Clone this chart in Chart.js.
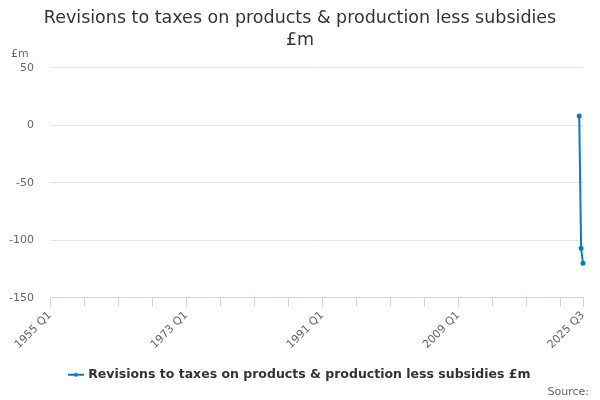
<!DOCTYPE html>
<html>
<head>
<meta charset="utf-8">
<script src="https://cdn.jsdelivr.net/npm/chart.js@4"></script>
<style>
  html, body { margin: 0; padding: 0; background: #fff; }
  #wrap { width: 600px; height: 400px; position: relative; }
</style>
</head>
<body>
<div id="wrap"><canvas id="chart"></canvas></div>
<script>
// ── Revisions to taxes on products & production less subsidies ──────

const titleLines = ['Revisions to taxes on products & production less subsidies', '£m'];
const seriesName = 'Revisions to taxes on products & production less subsidies £m';
const firstYear = 1955;
const lastYear = 2025;
const lastQuarter = 3;
// only the latest quarters carry a value
const valueQuarters = ['2025 Q1', '2025 Q2', '2025 Q3'];
const values = [8, -107, -120];
const yTicks = [50, 0, -50, -100, -150];
const labelEvery = 72;   // quarters between text labels
const tickEvery = 18;    // quarters between tick marks

const COLOR = '#0a78c2';
const FONT = "'DejaVu Sans', sans-serif";

const quarters = [];
for (let y = firstYear; y <= lastYear; y++) {
  for (let q = 1; q <= 4; q++) {
    if (y === lastYear && q > lastQuarter) break;
    quarters.push(`${y} Q${q}`);
  }
}
const series = quarters.map(lbl => {
  const i = valueQuarters.indexOf(lbl);
  return i >= 0 ? values[i] : null;
});
const lastIdx = quarters.length - 1;

// legend symbol: short line with a dot
function legendSymbol() {
  const c = document.createElement('canvas');
  c.width = 16; c.height = 8;
  const g = c.getContext('2d');
  g.strokeStyle = COLOR; g.lineWidth = 2;
  g.beginPath(); g.moveTo(0, 4); g.lineTo(16, 4); g.stroke();
  g.fillStyle = COLOR;
  g.beginPath(); g.arc(8, 4, 2, 0, Math.PI * 2); g.fill();
  return c;
}

const extras = {
  id: 'extras',
  afterDraw(chart) {
    const { ctx, chartArea } = chart;
    ctx.save();
    ctx.font = `11px ${FONT}`;
    ctx.fillStyle = '#666';
    ctx.textAlign = 'left';
    ctx.textBaseline = 'alphabetic';
    ctx.fillText('£m', 11, chartArea.top - 11);
    ctx.textAlign = 'right';
    ctx.fillText('Source:', 589, 395);
    ctx.restore();
  }
};

new Chart(document.getElementById('chart'), {
  type: 'line',
  data: {
    labels: quarters,
    datasets: [{
      label: seriesName,
      data: series,
      borderColor: COLOR,
      backgroundColor: COLOR,
      borderWidth: 2,
      pointRadius: 1.5,
      pointHoverRadius: 3,
      spanGaps: false,
      tension: 0,
    }],
  },
  options: {
    responsive: true, maintainAspectRatio: false, animation: false,
    layout: { padding: { left: 0, right: 0, top: 0, bottom: 9 } },
    plugins: {
      title: {
        display: true, text: titleLines, color: '#333',
        font: { family: FONT, size: 17.5, weight: 'normal', lineHeight: 1.25 },
        padding: { top: 8, bottom: 16 },
      },
      legend: {
        position: 'bottom',
        labels: {
          color: '#333', font: { family: FONT, size: 12.5, weight: 'bold' },
          usePointStyle: true, padding: 15,
          generateLabels: chart => [{
            text: seriesName, pointStyle: legendSymbol(), fillStyle: COLOR,
            strokeStyle: COLOR, fontColor: '#333', lineWidth: 0, datasetIndex: 0, hidden: false,
          }],
        },
      },
      tooltip: { enabled: true },
    },
    scales: {
      x: {
        type: 'category',
        offset: false,
        afterBuildTicks: scale => {
          scale.ticks = quarters
            .map((_, i) => i)
            .filter(i => i % tickEvery === 0 || i === lastIdx)
            .map(i => ({ value: i }));
        },
        ticks: {
          autoSkip: false, minRotation: 45, maxRotation: 45,
          color: '#666', font: { family: FONT, size: 11 }, padding: 2,
          callback: (v, i) => (v % labelEvery === 0 || v === lastIdx) ? quarters[v] : '',
        },
        grid: { drawOnChartArea: false, color: '#ccd6eb', tickLength: 9 },
        border: { color: '#ccd6eb' },
      },
      y: {
        min: -150, max: 50,
        afterBuildTicks: scale => { scale.ticks = yTicks.map(v => ({ value: v })); },
        afterFit: scale => { scale.width = 50; },
        ticks: { color: '#666', font: { family: FONT, size: 11 }, padding: 16 },
        grid: { color: '#e6e6e6', drawTicks: false },
        border: { display: false },
      },
      // empty right-hand margin so title and legend stay centred on the page
      yRight: {
        position: 'right', min: -150, max: 50,
        afterFit: scale => { scale.width = 17; },
        ticks: { display: false },
        grid: { display: false },
        border: { display: false },
      },
    },
  },
  plugins: [extras],
});
</script>
</body>
</html>
